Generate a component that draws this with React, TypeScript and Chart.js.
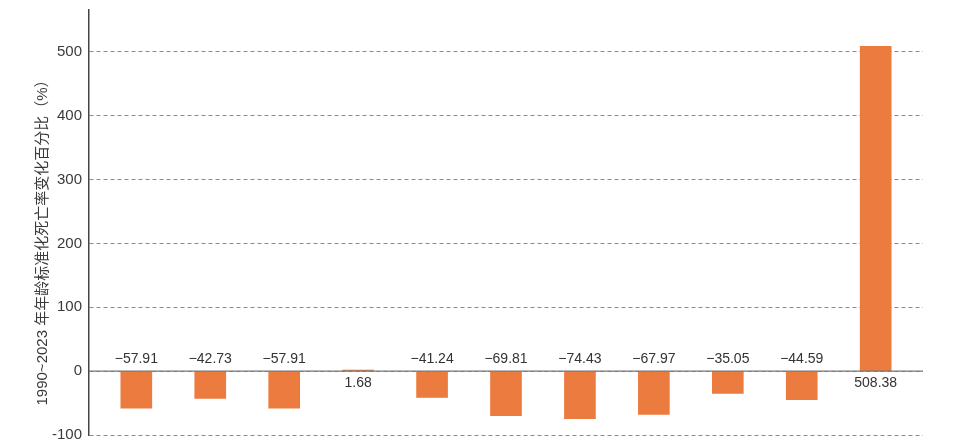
import React, { useEffect, useRef } from "react";
import { Chart, registerables } from "chart.js";

Chart.register(...registerables);

const categories = ["1", "2", "3", "4", "5", "6", "7", "8", "9", "10", "11"];
const values = [-57.91, -42.73, -57.91, 1.68, -41.24, -69.81, -74.43, -67.97, -35.05, -44.59, 508.38];
const valueLabels = ["−57.91", "−42.73", "−57.91", "1.68", "−41.24", "−69.81", "−74.43", "−67.97", "−35.05", "−44.59", "508.38"];
const yTicks = [-100, 0, 100, 200, 300, 400, 500];
const yTitle = "1990~2023 年年龄标准化死亡率变化百分比（%）";

const FONT = '"Liberation Sans", "Noto Sans CJK SC", Arial, sans-serif';
const TOP_SHIFT = 6;

const labelPlugin = {
  id: "customLabels",
  afterDatasetsDraw(chart: any) {
    const { ctx, scales, chartArea } = chart;
    const y0 = scales.y.getPixelForValue(0);
    ctx.save();
    // zero line
    ctx.strokeStyle = "#777";
    ctx.lineWidth = 1.2;
    ctx.setLineDash([]);
    ctx.beginPath();
    ctx.moveTo(chartArea.left, y0);
    ctx.lineTo(chartArea.right, y0);
    ctx.stroke();
    // value labels
    const meta = chart.getDatasetMeta(0);
    ctx.font = "14px " + FONT;
    ctx.fillStyle = "#333";
    ctx.textAlign = "center";
    ctx.textBaseline = "middle";
    meta.data.forEach((el: any, i: number) => {
      const v = values[i];
      const y = v < 0 ? y0 - 11.5 : y0 + 12;
      ctx.fillText(valueLabels[i], el.x, y);
    });
    // y title
    ctx.translate(43, 239 + TOP_SHIFT);
    ctx.rotate(-Math.PI / 2);
    ctx.fillStyle = "#3a3a3a";
    ctx.font = "15px " + FONT;
    ctx.fillText(yTitle, 0, 0);
    ctx.restore();
  },
};

export default function App() {
  const ref = useRef<HTMLCanvasElement>(null);
  useEffect(() => {
    if (!ref.current) return;
    const chart = new Chart(ref.current, {
      type: "bar",
      data: {
        labels: categories,
        datasets: [
          {
            data: values.map((v, i) => ({ x: i, y: v })),
            backgroundColor: "#EC7B3F",
            borderWidth: 0,
            barThickness: 31,
          },
        ],
      },
      options: {
        animation: false,
        responsive: true,
        maintainAspectRatio: false,
        layout: { padding: { top: 0, bottom: 0, right: 37, left: 0 } },
        plugins: { legend: { display: false }, tooltip: { enabled: false } },
        scales: {
          x: {
            type: "linear",
            display: false,
            offset: false,
            min: -0.64,
            max: 10.64,
          },
          y: {
            min: -100,
            max: 565.4,
            afterBuildTicks: (scale: any) => {
              scale.ticks = yTicks.map((v) => ({ value: v }));
            },
            afterFit: (scale: any) => {
              scale.width = 89;
            },
            grid: {
              color: "#8a8a8a",
              lineWidth: 1,
              drawTicks: false,
            },
            border: {
              display: true,
              color: "#444",
              width: 1.5,
              dash: [4, 3],
            },
            ticks: {
              color: "#3a3a3a",
              padding: 7,
              font: { family: FONT, size: 15 },
            },
          },
        },
      },
      plugins: [labelPlugin],
    } as any);
    return () => chart.destroy();
  }, []);
  return (
    <div style={{ position: "fixed", left: 0, top: -TOP_SHIFT, width: 960, height: 457, background: "#fff" }}>
      <canvas ref={ref} />
    </div>
  );
}
